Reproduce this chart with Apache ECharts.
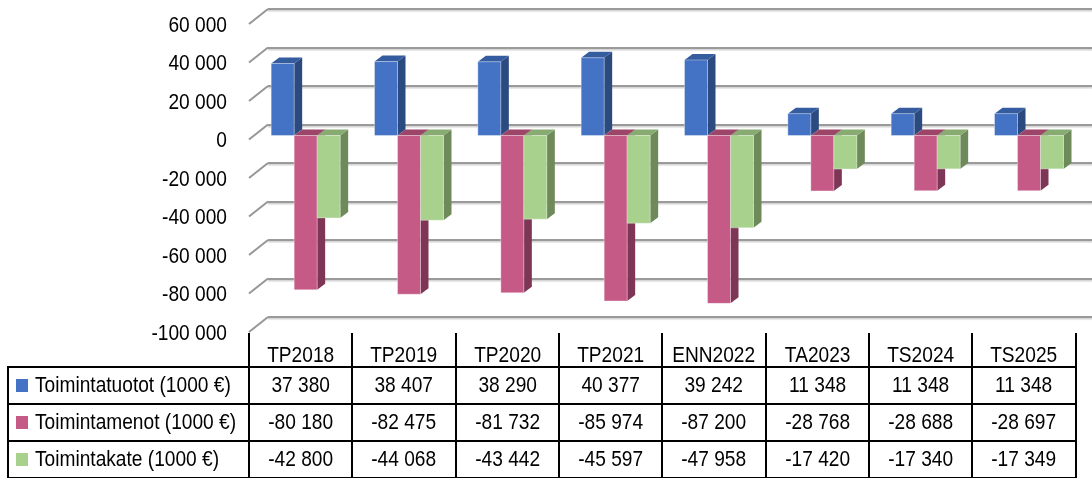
<!DOCTYPE html>
<html>
<head>
<meta charset="utf-8" />
<title>Toimintakate</title>
<script src="https://cdn.jsdelivr.net/npm/echarts@6/dist/echarts.min.js"></script>
<style>
body { margin: 0; background: #fff; }
#wrap { position: relative; width: 1092px; height: 478px; overflow: hidden; font-family: 'Liberation Sans', Arial, sans-serif; }
#main { position: absolute; left: 0; top: 0; width: 1092px; height: 478px; }
.ln { position: absolute; background: #000; }
.cell { position: absolute; font-size: 22px; line-height: 24px; color: #000; white-space: nowrap; text-align: center; transform: scaleX(0.87); transform-origin: center top; }
.cell.lbl { text-align: left; transform-origin: left top; }
.sq { position: absolute; width: 12px; height: 13px; }
</style>
</head>
<body>
<div id="wrap">
  <div id="main"></div>
  <div id="tbl"></div>
</div>

<script type="text/javascript">
// data
var categories = ['TP2018', 'TP2019', 'TP2020', 'TP2021', 'ENN2022', 'TA2023', 'TS2024', 'TS2025'];
var seriesNames = ['Toimintatuotot (1000 €)', 'Toimintamenot (1000 €)', 'Toimintakate (1000 €)'];
var tuotot = [37380, 38407, 38290, 40377, 39242, 11348, 11348, 11348];
var menot = [-80180, -82475, -81732, -85974, -87200, -28768, -28688, -28697];
var kate = [-42800, -44068, -43442, -45597, -47958, -17420, -17340, -17349];
var yTicks = [60000, 40000, 20000, 0, -20000, -40000, -60000, -80000, -100000];

// front, side, top colours per series
var faceColors = [
    ['#4472C4', '#2B4A80', '#345C9E'],
    ['#C55A87', '#7E3656', '#9C4569'],
    ['#A9D18E', '#6E8A5A', '#88AB72']
];

function fmt(v) {
    var s = String(Math.abs(v)).replace(/\B(?=(\d{3})+(?!\d))/g, ' ');
    return (v < 0 ? '-' : '') + s;
}

var myChart = echarts.init(document.getElementById('main'));

var barW = 23, dx = 8, dy = -6, shiftX = 5, shiftY = -4;

function barRender(sIdx) {
    return function (params, api) {
        var idx = api.value(0);
        var val = api.value(1);
        var pv = api.coord([idx, val]);
        var p0 = api.coord([idx, 0]);
        var x0 = pv[0] - barW * 1.5 + sIdx * barW + shiftX;
        var x1 = x0 + barW;
        var yv = pv[1] + shiftY;
        var y0 = p0[1] + shiftY;
        var yTop = Math.min(yv, y0), yBot = Math.max(yv, y0);
        var c = faceColors[sIdx];
        var edge = { stroke: 'rgba(255,255,255,0.35)', lineWidth: 1 };
        return {
            type: 'group',
            children: [
                { type: 'polygon', shape: { points: [[x1, yTop], [x1 + dx, yTop + dy], [x1 + dx, yBot + dy], [x1, yBot]] }, style: { fill: c[1] } },
                { type: 'polygon', shape: { points: [[x0, yTop], [x1, yTop], [x1 + dx, yTop + dy], [x0 + dx, yTop + dy]] }, style: { fill: c[2] } },
                { type: 'rect', shape: { x: x0, y: yTop, width: barW, height: yBot - yTop }, style: { fill: c[0], stroke: edge.stroke, lineWidth: edge.lineWidth } }
            ]
        };
    };
}

function toData(arr) {
    return arr.map(function (v, i) { return [i, v]; });
}

var colW = 826.67 / categories.length;

myChart.setOption({
    animation: false,
    grid: [
        { left: 268, top: 9, right: 0, height: 308 },
        { left: 249, top: 24, width: 826.67, height: 308 }
    ],
    xAxis: [
        { gridIndex: 0, type: 'category', data: categories, show: false },
        { gridIndex: 1, type: 'category', data: categories, show: false }
    ],
    yAxis: [
        {
            gridIndex: 0, type: 'value', min: -100000, max: 60000, interval: 20000,
            axisLabel: { show: false }, axisLine: { show: false }, axisTick: { show: false },
            splitLine: { show: true, lineStyle: { color: '#9A9A9A', width: 2, shadowColor: 'rgba(0,0,0,0.18)', shadowOffsetY: 1.5, shadowBlur: 1 } }
        },
        {
            gridIndex: 1, type: 'value', min: -100000, max: 60000, interval: 20000,
            axisLine: { show: false }, axisTick: { show: false }, splitLine: { show: false },
            axisLabel: { show: false }
        }
    ],
    series: [
        {
            // left wall lines and the value labels of the front plane
            name: 'walls', type: 'custom', xAxisIndex: 1, yAxisIndex: 1, silent: true,
            data: yTicks.map(function (v) { return [0, v]; }),
            renderItem: function (params, api) {
                var v = api.value(1);
                var p = api.coord([0, v]);
                var x = params.coordSys.x;
                return {
                    type: 'group',
                    children: [
                        { type: 'line', shape: { x1: x, y1: p[1], x2: x + 19, y2: p[1] - 15 }, style: { stroke: '#969696', lineWidth: 2 } },
                        {
                            type: 'text', x: x - 22, y: p[1] + 1.5, scaleX: 0.87,
                            style: { text: fmt(v), fill: '#000', font: '22px "Liberation Sans", Arial', textAlign: 'right', textVerticalAlign: 'middle' }
                        }
                    ]
                };
            }
        },
        { name: seriesNames[0], type: 'custom', xAxisIndex: 1, yAxisIndex: 1, renderItem: barRender(0), data: toData(tuotot) },
        { name: seriesNames[1], type: 'custom', xAxisIndex: 1, yAxisIndex: 1, renderItem: barRender(1), data: toData(menot) },
        { name: seriesNames[2], type: 'custom', xAxisIndex: 1, yAxisIndex: 1, renderItem: barRender(2), data: toData(kate) }
    ]
});

// data table under the chart
var tbl = document.getElementById('tbl');
var html = '';
var left0 = 249, tabTop = 333, rowTops = [366, 403, 440, 477], rowVals = [tuotot, menot, kate];
for (var i = 0; i <= categories.length; i++) {
    var x = left0 + i * colW - 1;
    html += '<div class="ln" style="left:' + x + 'px;top:' + tabTop + 'px;width:2px;height:' + (478 - tabTop) + 'px"></div>';
}
for (var r = 0; r < rowTops.length; r++) {
    html += '<div class="ln" style="left:7px;top:' + rowTops[r] + 'px;width:' + (left0 + 8 * colW - 6) + 'px;height:2px"></div>';
}
html += '<div class="ln" style="left:7px;top:366px;width:2px;height:112px"></div>';
for (var c = 0; c < categories.length; c++) {
    var cx = left0 + c * colW;
    html += '<div class="cell" style="left:' + cx + 'px;width:' + colW + 'px;top:343px">' + categories[c] + '</div>';
    for (var r2 = 0; r2 < 3; r2++) {
        html += '<div class="cell" style="left:' + cx + 'px;width:' + colW + 'px;top:' + (rowTops[r2] + 7) + 'px">' + fmt(rowVals[r2][c]) + '</div>';
    }
}
for (var s = 0; s < 3; s++) {
    html += '<div class="sq" style="left:16px;top:' + (rowTops[s] + 13) + 'px;background:' + faceColors[s][0] + '"></div>';
    html += '<div class="cell lbl" style="left:35px;top:' + (rowTops[s] + 7) + 'px">' + seriesNames[s] + '</div>';
}
tbl.innerHTML = html;
</script>
</body>
</html>
